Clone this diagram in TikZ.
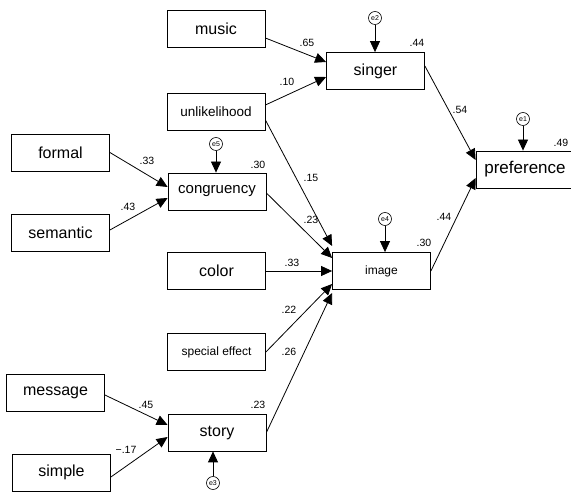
\documentclass[tikz,border=0pt]{standalone}
\usepackage{fontspec}
\setmainfont{Liberation Sans}
\usetikzlibrary{arrows.meta}
\begin{document}
\begin{tikzpicture}[x=1pt,y=-1pt,
  var/.style={draw,line width=0.8pt,minimum width=98pt,minimum height=37pt,inner sep=0pt,font=\fontsize{16}{18}\selectfont},
  err/.style={draw,circle,line width=0.6pt,minimum size=13pt,inner sep=0pt,font=\fontsize{7}{8}\selectfont},
  coef/.style={inner sep=0pt,font=\fontsize{10.5}{12}\selectfont},
  reg/.style={line width=0.8pt,-{Triangle[length=11pt,width=10pt]}}]
\useasboundingbox (0,0) rectangle (571,494);
\node[var] (music) at (216,28.5) {music};
\node[var] (singer) at (375.5,71) {singer};
\node[var,font=\fontsize{13.5}{16}\selectfont] (unlik) at (216,111.5) {unlikelihood};
\node[var] (formal) at (60.5,152.5) {formal};
\node[var,font=\fontsize{15}{18}\selectfont] (congr) at (217,191.5) {congruency};
\node[var] (semantic) at (60.5,232.5) {semantic};
\node[var] (color) at (216.5,271) {color};
\node[var,font=\fontsize{12}{14}\selectfont] (image) at (381.5,271) {image};
\node[var,font=\fontsize{12}{14}\selectfont] (spec) at (216.5,352) {special effect};
\node[var] (message) at (55.5,393) {message};
\node[var] (story) at (217,432.5) {story};
\node[var] (simple) at (61.5,472.5) {simple};
\node[var,font=\fontsize{17}{20}\selectfont] (pref) at (525,169.5) {preference};
\node[err] (e2) at (375,18) {e2};
\node[err] (e5) at (216,144) {e5};
\node[err] (e4) at (385,219) {e4};
\node[err] (e1) at (523,119) {e1};
\node[err] (e3) at (213,483) {e3};
\draw[reg] ([yshift=-9.5pt]music.east) -- ([yshift=9pt]singer.west);
\draw[reg] ([yshift=6.5pt]unlik.east) -- ([yshift=-6pt]singer.west);
\draw[reg] ([yshift=-8.5pt]unlik.east) -- ([yshift=25pt]image.west);
\draw[reg] ([yshift=-1.5pt]congr.east) -- ([yshift=13pt]image.west);
\draw[reg] (color.east) -- (image.west);
\draw[reg] (spec.east) -- ([yshift=-13pt]image.west);
\draw[reg] (story.east) -- ([yshift=-22pt]image.west);
\draw[reg] (image.east) -- ([yshift=-8.5pt]pref.west);
\draw[reg] ([yshift=5pt]singer.east) -- ([yshift=9.5pt]pref.west);
\draw[reg] (formal.east) -- ([yshift=4.5pt]congr.west);
\draw[reg] ([yshift=2.5pt]semantic.east) -- ([yshift=-6.5pt]congr.west);
\draw[reg] ([yshift=-2pt]message.east) -- ([yshift=7.5pt]story.west);
\draw[reg] ([yshift=-4.5pt]simple.east) -- ([yshift=-4.5pt]story.west);
\draw[reg] (e2) -- (e2 |- singer.north);
\draw[reg] (e5) -- (e5 |- congr.north);
\draw[reg] (e4) -- (e4 |- image.north);
\draw[reg] (e1) -- (e1 |- pref.north);
\draw[reg] (e3) -- (e3 |- story.south);
\node[coef] (c1) at (307,43) {.65};
\node[coef] (c2) at (287,82) {.10};
\node[coef] (r1) at (417,43) {.44};
\node[coef] (c3) at (460,110) {.54};
\node[coef] (r2) at (561,143) {.49};
\node[coef] (c4) at (147,161) {.33};
\node[coef] (c5) at (128,207) {.43};
\node[coef] (r3) at (258,165) {.30};
\node[coef] (c6) at (311,178) {.15};
\node[coef] (c7) at (311,220) {.23};
\node[coef] (c8) at (444,217) {.44};
\node[coef] (r4) at (424,243) {.30};
\node[coef] (c9) at (292,263) {.33};
\node[coef] (c10) at (289,310) {.22};
\node[coef] (c11) at (289,352) {.26};
\node[coef] (c12) at (146,405) {.45};
\node[coef] (c13) at (126,450) {−.17};
\node[coef] (r5) at (258,405) {.23};
\end{tikzpicture}
\end{document}
